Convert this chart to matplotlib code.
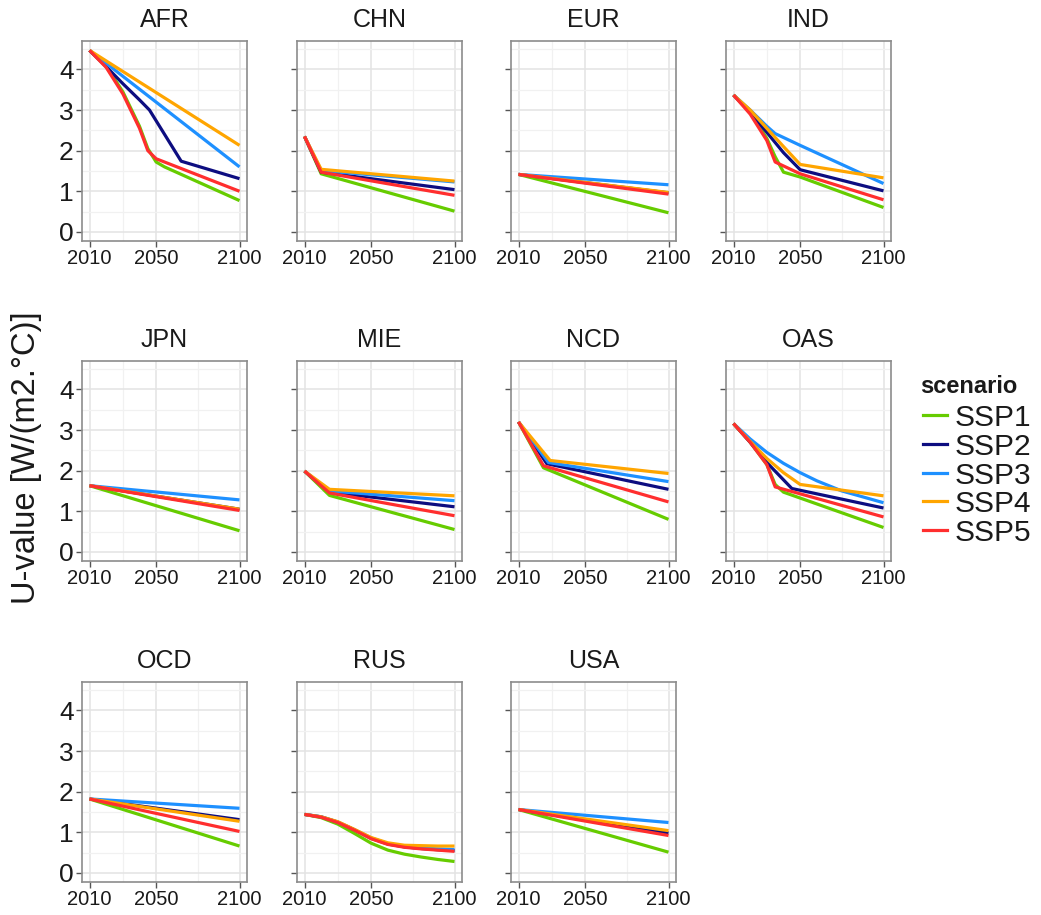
import matplotlib
matplotlib.use("Agg")
import matplotlib.pyplot as plt
from matplotlib.lines import Line2D

plt.rcParams["font.family"] = ["Liberation Sans", "DejaVu Sans"]

# -------------------------------------------------
# Data: U-value paths per region, (years, values) per scenario
# -------------------------------------------------

scenarios = ["SSP1", "SSP2", "SSP3", "SSP4", "SSP5"]
colors = ["#66CC00", "#0D0D80", "#1E90FF", "#FFA500", "#FF2E2E"]

afr = {
    "SSP1": ([2010, 2020, 2030, 2040, 2045, 2050, 2055, 2100], [4.47, 4.08, 3.45, 2.6, 2.05, 1.72, 1.6, 0.77]),
    "SSP2": ([2010, 2020, 2030, 2040, 2046, 2065, 2100], [4.47, 4.07, 3.65, 3.25, 3.0, 1.74, 1.31]),
    "SSP3": ([2010, 2100], [4.47, 1.6]),
    "SSP4": ([2010, 2100], [4.47, 2.13]),
    "SSP5": ([2010, 2020, 2030, 2040, 2045, 2050, 2100], [4.47, 4.05, 3.4, 2.55, 2.0, 1.8, 1.0]),
}
chn = {
    "SSP1": ([2010, 2020, 2100], [2.35, 1.43, 0.51]),
    "SSP2": ([2010, 2020, 2100], [2.35, 1.47, 1.04]),
    "SSP3": ([2010, 2020, 2100], [2.35, 1.51, 1.23]),
    "SSP4": ([2010, 2020, 2100], [2.35, 1.54, 1.25]),
    "SSP5": ([2010, 2020, 2100], [2.35, 1.47, 0.90]),
}
eur = {
    "SSP1": ([2010, 2100], [1.415, 0.47]),
    "SSP2": ([2010, 2100], [1.415, 0.96]),
    "SSP3": ([2010, 2100], [1.415, 1.16]),
    "SSP4": ([2010, 2100], [1.415, 0.97]),
    "SSP5": ([2010, 2100], [1.415, 0.93]),
}
ind = {
    "SSP1": ([2010, 2020, 2030, 2035, 2040, 2050, 2100], [3.37, 2.95, 2.3, 1.85, 1.47, 1.35, 0.60]),
    "SSP2": ([2010, 2020, 2030, 2040, 2050, 2100], [3.37, 2.95, 2.45, 1.95, 1.53, 1.01]),
    "SSP3": ([2010, 2020, 2030, 2035, 2050, 2100], [3.37, 3.0, 2.6, 2.42, 2.13, 1.19]),
    "SSP4": ([2010, 2020, 2030, 2040, 2050, 2100], [3.37, 3.0, 2.55, 2.1, 1.66, 1.33]),
    "SSP5": ([2010, 2020, 2030, 2035, 2050, 2100], [3.37, 2.9, 2.25, 1.72, 1.43, 0.79]),
}
jpn = {
    "SSP1": ([2010, 2100], [1.63, 0.52]),
    "SSP2": ([2010, 2100], [1.63, 1.05]),
    "SSP3": ([2010, 2100], [1.63, 1.28]),
    "SSP4": ([2010, 2100], [1.63, 1.05]),
    "SSP5": ([2010, 2100], [1.63, 1.02]),
}
mie = {
    "SSP1": ([2010, 2025, 2100], [1.99, 1.39, 0.55]),
    "SSP2": ([2010, 2025, 2100], [1.99, 1.47, 1.11]),
    "SSP3": ([2010, 2025, 2100], [1.99, 1.50, 1.26]),
    "SSP4": ([2010, 2025, 2100], [1.99, 1.54, 1.38]),
    "SSP5": ([2010, 2025, 2100], [1.99, 1.45, 0.89]),
}
ncd = {
    "SSP1": ([2010, 2025, 2100], [3.2, 2.07, 0.80]),
    "SSP2": ([2010, 2027, 2100], [3.2, 2.17, 1.54]),
    "SSP3": ([2010, 2028, 2100], [3.2, 2.20, 1.73]),
    "SSP4": ([2010, 2029, 2100], [3.2, 2.25, 1.93]),
    "SSP5": ([2010, 2025, 2100], [3.2, 2.12, 1.23]),
}
oas = {
    "SSP1": ([2010, 2020, 2030, 2035, 2040, 2100], [3.16, 2.7, 2.15, 1.66, 1.47, 0.60]),
    "SSP2": ([2010, 2020, 2030, 2045, 2100], [3.16, 2.7, 2.2, 1.56, 1.08]),
    "SSP3": ([2010, 2020, 2030, 2040, 2050, 2060, 2075, 2100], [3.16, 2.78, 2.45, 2.18, 1.95, 1.75, 1.5, 1.21]),
    "SSP4": ([2010, 2020, 2030, 2040, 2050, 2100], [3.16, 2.72, 2.3, 1.95, 1.66, 1.38]),
    "SSP5": ([2010, 2020, 2030, 2035, 2100], [3.16, 2.7, 2.15, 1.6, 0.86]),
}
ocd = {
    "SSP1": ([2010, 2100], [1.82, 0.66]),
    "SSP2": ([2010, 2100], [1.82, 1.31]),
    "SSP3": ([2010, 2100], [1.82, 1.59]),
    "SSP4": ([2010, 2100], [1.82, 1.27]),
    "SSP5": ([2010, 2100], [1.82, 1.02]),
}
rus_years = [2010, 2020, 2030, 2040, 2050, 2060, 2070, 2080, 2090, 2100]
rus = {
    "SSP1": (rus_years, [1.44, 1.36, 1.20, 0.97, 0.73, 0.56, 0.46, 0.39, 0.33, 0.28]),
    "SSP2": (rus_years, [1.44, 1.38, 1.25, 1.06, 0.85, 0.71, 0.64, 0.60, 0.57, 0.55]),
    "SSP3": (rus_years, [1.44, 1.38, 1.25, 1.06, 0.86, 0.72, 0.65, 0.61, 0.59, 0.57]),
    "SSP4": (rus_years, [1.44, 1.38, 1.26, 1.07, 0.87, 0.74, 0.68, 0.67, 0.66, 0.66]),
    "SSP5": (rus_years, [1.44, 1.37, 1.24, 1.05, 0.84, 0.70, 0.63, 0.59, 0.56, 0.53]),
}
usa = {
    "SSP1": ([2010, 2100], [1.56, 0.51]),
    "SSP2": ([2010, 2100], [1.56, 0.98]),
    "SSP3": ([2010, 2100], [1.56, 1.24]),
    "SSP4": ([2010, 2100], [1.56, 1.04]),
    "SSP5": ([2010, 2100], [1.56, 0.92]),
}

regions = ["AFR", "CHN", "EUR", "IND", "JPN", "MIE", "NCD", "OAS", "OCD", "RUS", "USA"]
region_data = [afr, chn, eur, ind, jpn, mie, ncd, oas, ocd, rus, usa]

x_ticks = [2010, 2050, 2100]
y_ticks = [0, 1, 2, 3, 4]

# -------------------------------------------------
# Figure layout (pixels at 100 dpi)
# -------------------------------------------------

W, H = 1041, 915
fig = plt.figure(figsize=(W / 100, H / 100), dpi=100)

col_left = [82, 297, 511, 726]
row_top = [41, 361, 682]
pw, ph = 165, 200

for i, (name, data) in enumerate(zip(regions, region_data)):
    r, c = divmod(i, 4)
    ax = fig.add_axes([col_left[c] / W, 1 - (row_top[r] + ph) / H, pw / W, ph / H])

    for s, col in zip(scenarios, colors):
        yrs, vals = data[s]
        ax.plot(yrs, vals, color=col, lw=2.3, solid_capstyle="butt", zorder=3)

    ax.set_xlim(2005.5, 2104.5)
    ax.set_ylim(-0.225, 4.7)
    ax.set_xticks(x_ticks)
    ax.set_xticks([2030, 2075], minor=True)
    ax.set_yticks(y_ticks)
    ax.set_yticks([0.5, 1.5, 2.5, 3.5, 4.5], minor=True)
    ax.grid(which="major", color="#E3E3E3", lw=1.1, zorder=0)
    ax.grid(which="minor", color="#F1F1F1", lw=0.9, zorder=0)
    ax.tick_params(which="minor", length=0)
    ax.tick_params(which="major", length=4, width=1, color="#555555", pad=2)
    ax.tick_params(axis="x", labelsize=14.5, labelcolor="#1A1A1A")
    ax.tick_params(axis="y", labelsize=19, labelcolor="#1A1A1A")
    if c != 0:
        ax.set_yticklabels([])
    for sp in ax.spines.values():
        sp.set_color("#8C8C8C")
        sp.set_linewidth(1.2)

    ax.set_title(name, fontsize=18, color="#1A1A1A", pad=10)

fig.text(27 / W, 1 - 458 / H, "U-value [W/(m2.°C)]", rotation=90,
         fontsize=23.5, ha="center", va="center", color="#1A1A1A")

# -------------------------------------------------
# Legend (drawn by hand for tight row spacing)
# -------------------------------------------------

fig.text(920 / W, 1 - 393 / H, "scenario", fontsize=17, fontweight="bold",
         ha="left", va="baseline", color="#1A1A1A")

row_mid = 415
row_step = 28.8
for k, (s, col) in enumerate(zip(scenarios, colors)):
    y_mid = row_mid + k * row_step
    fig.add_artist(Line2D([923 / W, 947 / W], [1 - y_mid / H, 1 - y_mid / H],
                          color=col, lw=2.3, transform=fig.transFigure))
    fig.text(955 / W, 1 - (y_mid + 11) / H, s, fontsize=21.5,
             ha="left", va="baseline", color="#1A1A1A")

fig.savefig("out.png", dpi=100)
